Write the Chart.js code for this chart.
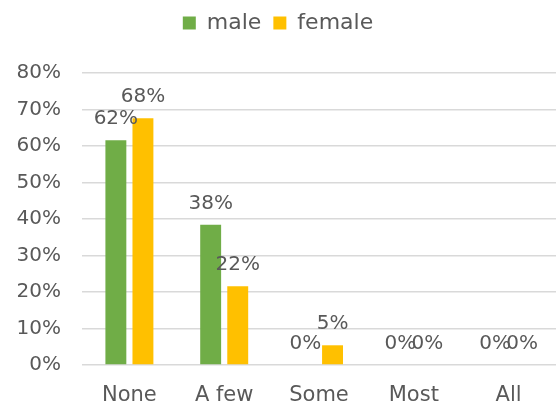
<!DOCTYPE html>
<html>
<head>
<meta charset="utf-8">
<script src="https://cdn.jsdelivr.net/npm/chart.js@4.4.0/dist/chart.umd.min.js"></script>
<style>
  html, body { margin: 0; padding: 0; background: #fff; overflow: hidden; }
  #wrap { width: 556px; height: 406px; position: relative; }
</style>
</head>
<body>
<div id="wrap"><canvas id="c"></canvas></div>
<script>
const categories = ["None", "A few", "Some", "Most", "All"];
const maleValues = [61.6, 38.4, 0, 0, 0];
const femaleValues = [67.6, 21.6, 5.4, 0, 0];
const seriesNames = ["male", "female"];
const yTicks = [0, 10, 20, 30, 40, 50, 60, 70, 80];

const FONT = "'DejaVu Sans', sans-serif";
const TXT = "#595959";

const labelPlugin = {
  id: "barLabels",
  afterDatasetsDraw(chart) {
    const ctx = chart.ctx;
    ctx.save();
    ctx.font = "20px " + FONT;
    ctx.fillStyle = TXT;
    ctx.textAlign = "center";
    ctx.textBaseline = "alphabetic";
    chart.data.datasets.forEach((ds, i) => {
      const meta = chart.getDatasetMeta(i);
      meta.data.forEach((bar, j) => {
        const v = ds.data[j];
        ctx.fillText(Math.round(v) + "%", bar.x, bar.y - 16);
      });
    });
    ctx.restore();
  }
};

const legendFitPlugin = {
  id: "legendFit",
  beforeInit(chart) {
    const lg = chart.legend;
    if (!lg) return;
    const orig = lg.fit;
    lg.fit = function () {
      orig.call(this);
      this.height = 73;
    };
  }
};

new Chart(document.getElementById("c"), {
  type: "bar",
  data: {
    labels: categories,
    datasets: [
      { label: seriesNames[0], data: maleValues, backgroundColor: "#70AD47",
        categoryPercentage: 0.571, barPercentage: 0.773 },
      { label: seriesNames[1], data: femaleValues, backgroundColor: "#FFC000",
        categoryPercentage: 0.571, barPercentage: 0.773 }
    ]
  },
  options: {
    responsive: true,
    maintainAspectRatio: false,
    animation: false,
    layout: { padding: { left: 0, right: 0, top: 0, bottom: 0 } },
    plugins: {
      legend: {
        position: "top",
        labels: {
          font: { family: FONT, size: 22 },
          color: TXT,
          boxWidth: 13,
          boxHeight: 13,
          padding: 12
        }
      },
      tooltip: { enabled: false }
    },
    scales: {
      x: {
        afterFit(scale) { scale.height = 41; },
        grid: { display: false, drawTicks: false },
        border: { display: false },
        ticks: { font: { family: FONT, size: 21 }, color: TXT, padding: 18 }
      },
      y: {
        min: 0,
        max: 80,
        afterBuildTicks(scale) { scale.ticks = yTicks.map(v => ({ value: v })); },
        afterFit(scale) { scale.width = 82; },
        grid: { color: "#d9d9d9", lineWidth: 1.5, drawTicks: false },
        border: { display: false },
        ticks: {
          font: { family: FONT, size: 20 },
          color: TXT,
          padding: 21,
          callback: v => v + "%"
        }
      }
    }
  },
  plugins: [labelPlugin, legendFitPlugin]
});
</script>
</body>
</html>
